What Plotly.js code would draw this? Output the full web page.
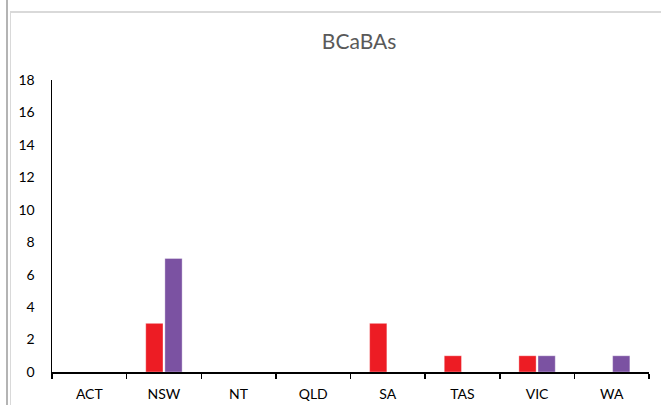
<!DOCTYPE html>
<html>
<head>
<meta charset="utf-8">
<script src="https://cdn.plot.ly/plotly-3.0.1.min.js"></script>
<style>
  html, body { margin: 0; padding: 0; background: #fff; }
  #wrap { position: relative; width: 661px; height: 405px; overflow: hidden; }
  #chart { position: absolute; left: 0; top: 0; width: 661px; height: 405px; }
  #outer { position: absolute; left: 6px; top: 0; width: 2px; height: 405px; background: #b4b4b4; }
  #frameTop { position: absolute; left: 10px; top: 11px; width: 651px; height: 2px; background: #d9d9d9; }
  #frameLeft { position: absolute; left: 10px; top: 11px; width: 1px; height: 394px; background: #d9d9d9; }
</style>
</head>
<body>
<div id="wrap">
  <div id="chart"></div>
  <div id="outer"></div>
  <div id="frameTop"></div>
  <div id="frameLeft"></div>
</div>
<script>
const categories = ["ACT", "NSW", "NT", "QLD", "SA", "TAS", "VIC", "WA"];
const seriesRed = [0, 3, 0, 0, 3, 1, 1, 0];
const seriesPurple = [0, 7, 0, 0, 0, 0, 1, 1];
const yTicks = [0, 2, 4, 6, 8, 10, 12, 14, 16, 18];
const chartTitle = "BCaBAs";

const fontFam = "Lato, 'Open Sans', sans-serif";

const traces = [
  {
    type: "bar", x: categories, y: seriesRed, name: "Series 1",
    marker: { color: "#ED1C24", line: { color: "rgba(255,255,255,0.35)", width: 1 } },
    hoverinfo: "none"
  },
  {
    type: "bar", x: categories, y: seriesPurple, name: "Series 2",
    marker: { color: "#7B52A2", line: { color: "rgba(255,255,255,0.35)", width: 1 } },
    hoverinfo: "none"
  }
];

const layout = {
  width: 661, height: 405,
  margin: { l: 52, r: 12, t: 80, b: 33, pad: 0 },
  paper_bgcolor: "rgba(0,0,0,0)",
  plot_bgcolor: "rgba(0,0,0,0)",
  showlegend: false,
  barmode: "group",
  bargap: 0.487,
  bargroupgap: 0.1,
  title: {
    text: chartTitle,
    font: { family: fontFam, size: 21, color: "#595959" },
    x: 340 / 661, xref: "paper", xanchor: "center",
    y: 1 - 42 / 405, yref: "container", yanchor: "middle"
  },
  xaxis: {
    type: "category",
    showline: true, linecolor: "#000", linewidth: 1.5,
    ticks: "outside", tickson: "boundaries", ticklen: 5, tickwidth: 1.5, tickcolor: "#000",
    showgrid: false, zeroline: false,
    tickfont: { family: fontFam, size: 14, color: "#000" },
    ticklabelstandoff: 9,
    fixedrange: true
  },
  yaxis: {
    range: [0, 18],
    tickvals: yTicks,
    ticktext: yTicks.map(String),
    showline: true, linecolor: "#000", linewidth: 1.5,
    ticks: "", showgrid: false, zeroline: false,
    tickfont: { family: fontFam, size: 14, color: "#000" },
    ticklabelstandoff: 13,
    fixedrange: true
  }
};

Plotly.newPlot("chart", traces, layout, { displayModeBar: false, staticPlot: true });
</script>
</body>
</html>
